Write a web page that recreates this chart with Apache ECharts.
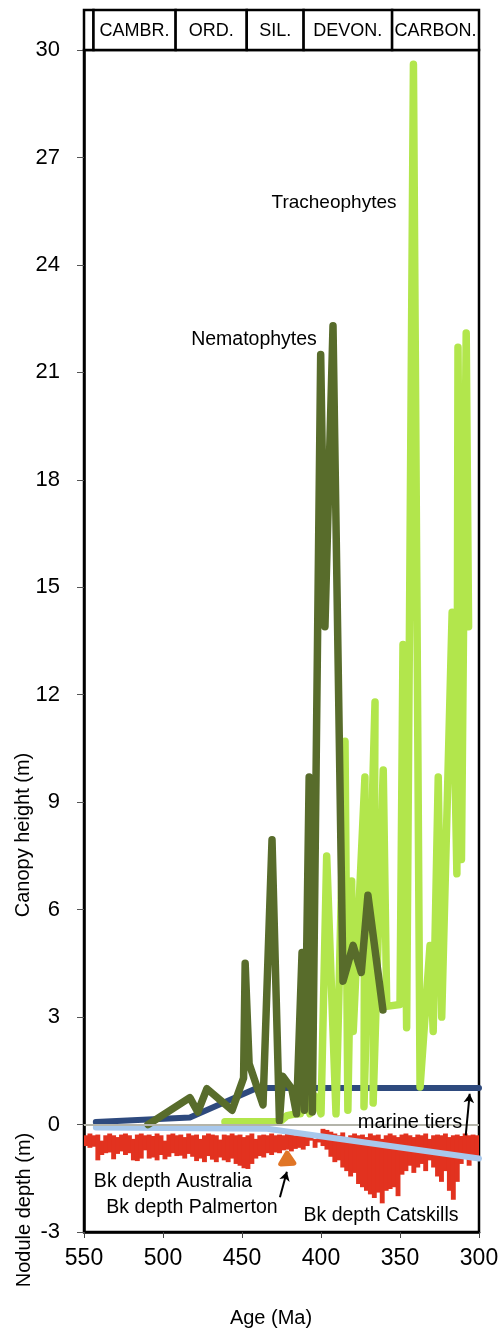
<!DOCTYPE html>
<html><head><meta charset="utf-8">
<script src="https://cdn.jsdelivr.net/npm/echarts@6/dist/echarts.min.js"></script>
<style>html,body{margin:0;padding:0;background:#fff}#c{width:502px;height:1333px}</style>
</head><body><div id="c"></div>
<script>
// ---- data ----
const periodNames = ['', 'CAMBR.', 'ORD.', 'SIL.', 'DEVON.', 'CARBON.'];
const periodStart = [550, 544, 492, 447, 411, 355];
const periodEnd   = [544, 492, 447, 411, 355, 300];

const marineAge  = [542.5, 483, 440.5, 300];
const marineTier = [0.07, 0.2, 1.02, 1.02];

const trendAge   = [542.5, 434, 300];
const trendDepth = [-0.08, -0.12, -0.95];

const nemaAge    = [509.5, 483, 478, 472.2, 456.3, 449, 448, 445.5, 436.7, 431, 426.3, 424.3, 418.5, 415.5, 412, 410.5, 407.5, 405.5, 400.2, 397.5, 392.4, 386.1, 379.7, 374.5, 370.3, 360.8];
const nemaHeight = [0.0, 0.75, 0.35, 1.0, 0.4, 1.3, 4.5, 1.7, 0.55, 7.95, 0.1, 1.35, 1.0, 0.3, 4.8, 0.4, 9.7, 0.35, 21.5, 13.9, 22.3, 4.0, 5.0, 4.25, 6.4, 3.2];

const tracAge    = [460.8, 426, 421.5, 416, 413, 409, 407, 404, 400, 396.4, 390.5, 384.8, 383, 380.6, 379.6, 372.2, 372.8, 365.8, 367, 360.6, 358.4, 350, 348.1, 345.8, 341.5, 337.3, 331, 329, 325.8, 323.6, 317, 314, 313.3, 311.1, 308.1, 306.6];
const tracHeight = [0.08, 0.08, 0.25, 0.3, 0.3, 0.8, 0.3, 0.8, 0.3, 7.5, 0.3, 10.7, 0.4, 6.8, 2.6, 9.7, 0.5, 11.8, 0.6, 9.9, 3.3, 3.35, 13.4, 2.7, 29.6, 1.05, 5.0, 2.6, 9.7, 3.0, 14.3, 7.0, 21.7, 7.4, 22.1, 13.9];

const palmAge   = [425.5, 421.5, 417.2, 425.5, 421.5, 419.5];
const palmDepth = [-1.1, -0.8, -1.08, -1.1, -0.95, -1.05];

const bkAge = [548.75,546.25,543.75,541.25,538.75,536.25,533.75,531.25,528.75,526.25,
  523.75,521.25,518.75,516.25,513.75,511.25,508.75,506.25,503.75,501.25,
  498.75,496.25,493.75,491.25,488.75,486.25,483.75,481.25,478.75,476.25,
  473.75,471.25,468.75,466.25,463.75,461.25,458.75,456.25,453.75,451.25,
  448.75,446.25,443.75,441.25,438.75,436.25,433.75,431.25,428.75,426.25,
  423.75,421.25,418.75,416.25,413.75,411.25,408.75,406.25,403.75,401.25,
  398.75,396.25,393.75,391.25,388.75,386.25,383.75,381.25,378.75,376.25,
  373.75,371.25,368.75,366.25,363.75,361.25,358.75,356.25,353.75,351.25,
  348.75,346.25,343.75,341.25,338.75,336.25,333.75,331.25,328.75,326.25,
  323.75,321.25,318.75,316.25,313.75,311.25,308.75,306.25,303.75,301.25];
const bkTop = [-0.3,-0.25,-0.3,-0.28,-0.45,-0.3,-0.25,-0.3,-0.35,-0.28,
  -0.25,-0.3,-0.4,-0.28,-0.25,-0.3,-0.28,-0.32,-0.25,-0.3,
  -0.45,-0.28,-0.25,-0.3,-0.28,-0.35,-0.25,-0.3,-0.28,-0.4,
  -0.3,-0.25,-0.28,-0.3,-0.42,-0.28,-0.3,-0.25,-0.3,-0.28,
  -0.35,-0.3,-0.25,-0.4,-0.3,-0.28,-0.3,-0.25,-0.3,-0.28,
  -0.3,-0.22,-0.25,-0.3,-0.2,-0.25,-0.35,-0.3,-0.4,-0.35,
  -0.12,-0.15,-0.2,-0.25,-0.3,-0.22,-0.35,-0.3,-0.25,-0.3,
  -0.28,-0.35,-0.25,-0.3,-0.28,-0.4,-0.3,-0.25,-0.3,-0.35,
  -0.28,-0.25,-0.3,-0.35,-0.28,-0.3,-0.25,-0.4,-0.3,-0.28,
  -0.3,-0.25,-0.35,-0.3,-0.28,-0.32,-0.25,-0.3,-0.28,-0.3];
const bkBottom = [-0.6,-0.65,-0.62,-1.0,-0.85,-0.8,-0.78,-0.97,-0.82,-0.75,
  -0.85,-0.8,-1.0,-1.02,-0.95,-0.72,-0.95,-0.92,-1.0,-0.85,
  -0.97,-0.9,-0.8,-0.88,-0.87,-0.95,-0.82,-0.9,-1.02,-0.95,
  -1.05,-0.88,-0.98,-1.05,-0.92,-1.0,-1.05,-0.95,-1.1,-1.15,
  -1.22,-1.24,-1.1,-0.95,-0.88,-0.92,-0.8,-0.85,-0.78,-0.8,
  -0.72,-0.7,-0.75,-0.68,-0.65,-0.7,-0.6,-0.45,-0.65,-0.5,
  -0.6,-0.7,-0.9,-1.05,-1.0,-1.2,-1.3,-1.45,-1.35,-1.66,
  -1.75,-1.85,-1.95,-2.05,-1.9,-2.2,-1.85,-1.8,-1.75,-2.0,
  -1.4,-1.3,-1.15,-1.35,-1.2,-1.1,-1.3,-1.0,-1.2,-1.45,
  -1.6,-1.3,-1.85,-2.1,-1.6,-1.1,-0.95,-1.15,-0.9,-1.0];

// ---- build ----
const zip = (a, b) => a.map((v, i) => [v, b[i]]);
const FONT = '"Liberation Sans", Arial, Helvetica, sans-serif';

const chart = echarts.init(document.getElementById('c'), null, {renderer: 'canvas'});

const greenLine = (name, color, ages, vals) => ({
  name, type: 'line', xAxisIndex: 0, yAxisIndex: 0,
  data: zip(ages, vals), showSymbol: false, symbol: 'none', silent: true,
  lineStyle: {color, width: 7.5, cap: 'round', join: 'round'}, z: 3
});

const txt = (text, x, y, size, rot) => ({
  type: 'text', x, y, rotation: rot || 0, silent: true, z: 100,
  style: {text, x: 0, y: 0, textAlign: 'center', textVerticalAlign: 'middle',
    font: size + 'px ' + FONT, fill: '#000'}
});

const option = {
  animation: false,
  backgroundColor: '#fff',
  grid: [
    {left: 84, right: 23, top: 50, bottom: 101, show: true, borderColor: '#000', borderWidth: 2.5, backgroundColor: 'transparent'},
    {left: 84, right: 23, top: 10, height: 40, show: false}
  ],
  xAxis: [
    {type: 'value', gridIndex: 0, min: 300, max: 550, interval: 50, inverse: true,
      axisLine: {show: true, onZero: false, lineStyle: {color: '#000', width: 2.5}},
      axisTick: {show: true, length: 6, lineStyle: {color: '#444', width: 1}},
      axisLabel: {fontSize: 23, color: '#000', margin: 15, fontFamily: FONT, showMinLabel: true, showMaxLabel: true},
      splitLine: {show: false}},
    {type: 'value', gridIndex: 1, min: 300, max: 550, inverse: true, show: false}
  ],
  yAxis: [
    {type: 'value', gridIndex: 0, min: -3, max: 30, interval: 3,
      axisLine: {show: true, onZero: false, lineStyle: {color: '#000', width: 2.5}},
      axisTick: {show: true, length: 7, lineStyle: {color: '#555', width: 1}},
      axisLabel: {fontSize: 22, color: '#000', margin: 24, fontFamily: FONT, showMinLabel: true, showMaxLabel: true},
      splitLine: {show: false}},
    {type: 'value', gridIndex: 1, min: 0, max: 1, show: false}
  ],
  series: [
    {
      name: 'periods', type: 'custom', xAxisIndex: 1, yAxisIndex: 1, silent: true,
      data: periodNames.map((n, i) => [periodStart[i], periodEnd[i], i]),
      encode: {x: [0, 1]},
      renderItem: (params, api) => {
        const p1 = api.coord([api.value(0), 1]);
        const p2 = api.coord([api.value(1), 0]);
        const x = Math.min(p1[0], p2[0]), w = Math.abs(p2[0] - p1[0]);
        const y = Math.min(p1[1], p2[1]), h = Math.abs(p2[1] - p1[1]);
        return {type: 'group', children: [
          {type: 'rect', shape: {x, y, width: w, height: h}, style: {fill: '#fff', stroke: '#000', lineWidth: 2.5}},
          {type: 'text', style: {text: periodNames[api.value(2)], x: x + w / 2, y: y + h / 2 + 1,
            textAlign: 'center', textVerticalAlign: 'middle', font: '18px ' + FONT, fill: '#000'}}
        ]};
      }
    },
    {
      name: 'Bk depth', type: 'custom', xAxisIndex: 0, yAxisIndex: 0, silent: true, clip: true,
      data: bkAge.map((a, i) => [a, bkTop[i], bkBottom[i]]),
      encode: {x: 0, y: [1, 2]},
      renderItem: (params, api) => {
        const a = api.value(0);
        const p1 = api.coord([a + 1.55, api.value(1)]);
        const p2 = api.coord([a - 1.55, api.value(2)]);
        return {type: 'rect',
          shape: {x: Math.min(p1[0], p2[0]), y: Math.min(p1[1], p2[1]),
            width: Math.abs(p2[0] - p1[0]), height: Math.abs(p2[1] - p1[1])},
          style: {fill: '#e2321f'}};
      },
      markLine: {silent: true, symbol: 'none', label: {show: false},
        lineStyle: {color: '#b4b4aa', width: 2, type: 'solid'}, data: [{yAxis: 0}]},
      z: 2
    },
    {
      name: 'Bk depth Palmerton', type: 'line', xAxisIndex: 0, yAxisIndex: 0, silent: true,
      data: zip(palmAge, palmDepth), showSymbol: false, symbol: 'none',
      lineStyle: {color: '#e07526', width: 5, cap: 'round', join: 'round'}, z: 2,
      markLine: {silent: true, symbol: ['none', 'arrow'], symbolSize: [8, 9], label: {show: false},
        lineStyle: {color: '#000', width: 2, type: 'solid'},
        data: [
          [{coord: [426, -2.03]}, {coord: [421.6, -1.32]}],
          [{coord: [308.4, -0.3], lineStyle: {curveness: 0.35}}, {coord: [305.9, 0.86]}]
        ]}
    },
    {
      name: 'Bk trend', type: 'line', xAxisIndex: 0, yAxisIndex: 0, silent: true,
      data: zip(trendAge, trendDepth), showSymbol: false, symbol: 'none',
      lineStyle: {color: '#a8c8ec', width: 6, cap: 'round', join: 'round'}, z: 2
    },
    {
      name: 'marine tiers', type: 'line', xAxisIndex: 0, yAxisIndex: 0, silent: true,
      data: zip(marineAge, marineTier), showSymbol: false, symbol: 'none',
      lineStyle: {color: '#2e4a7e', width: 6, cap: 'round', join: 'round'}, z: 2
    },
    greenLine('Tracheophytes', '#b2e64c', tracAge, tracHeight),
    greenLine('Nematophytes', '#586c2b', nemaAge, nemaHeight)
  ],
  graphic: [
    txt('Tracheophytes', 334, 203, 19),
    txt('Nematophytes', 254, 340, 19.5),
    txt('marine tiers', 410, 1122, 20),
    txt('Bk depth Australia', 173, 1182, 19.5),
    txt('Bk depth Palmerton', 192, 1208, 19.5),
    txt('Bk depth Catskills', 381, 1216, 19.5),
    txt('Age (Ma)', 271, 1318, 20),
    txt('Canopy height (m)', 23, 835, 20, Math.PI / 2),
    txt('Nodule depth (m)', 24, 1210, 20, Math.PI / 2)
  ]
};
chart.setOption(option);
</script>
</body></html>
